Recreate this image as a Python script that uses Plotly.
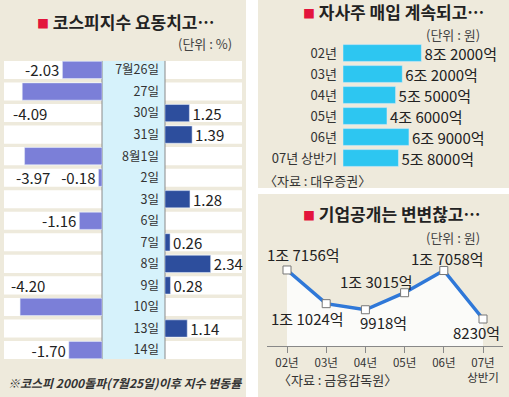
import plotly.graph_objects as go

W, H = 509, 397
FONT = "Noto Sans CJK KR"

# ---- data ----
dates = ['7월26일', '27일', '30일', '31일', '8월1일', '2일', '3일', '6일', '7일',
         '8일', '9일', '10일', '13일', '14일']
kospi_change = [-2.03, -4.09, 1.25, 1.39, -3.97, -0.18, 1.28, -1.16, 0.26,
                2.34, 0.28, -4.20, 1.14, -1.70]

buyback_years = ['02년', '03년', '04년', '05년', '06년', '07년 상반기']
buyback_eok = [82000, 62000, 55000, 46000, 69000, 58000]

ipo_years = ['02년', '03년', '04년', '05년', '06년', '07년<br>상반기']
ipo_eok = [17156, 11024, 9918, 13015, 17058, 8230]

# ---- styles ----
BG = '#eeeadc'
NEG = '#7b7fd8'
POS = '#2d4e9d'
CYAN_BAR = '#2dc6f1'
STRIP = '#d6f2fb'
LINE = '#2f78d8'


def px_x(p):
    return p / W


def px_y(p):
    return 1 - p / H


def eok_text(v):
    if v >= 10000:
        return f"{v // 10000}조 {v % 10000}억"
    return f"{v}억"


K = 19.5  # px per % point
fig = go.Figure()

neg_idx = [i for i, v in enumerate(kospi_change) if v < 0]
pos_idx = [i for i, v in enumerate(kospi_change) if v >= 0]
long_neg = {i: (1 if i != 11 else -1) for i in neg_idx if kospi_change[i] < -3.5}

fig.add_trace(go.Bar(
    x=[kospi_change[i] for i in neg_idx], y=[dates[i] for i in neg_idx],
    orientation='h', xaxis='x', yaxis='y', marker_color=NEG,
    text=['' if i in long_neg else f"{kospi_change[i]:.2f}" for i in neg_idx],
    textposition='outside', constraintext='none',
    textfont=dict(size=15, color='#222', family=FONT),
    cliponaxis=False, hoverinfo='skip'))
fig.add_trace(go.Bar(
    x=[kospi_change[i] for i in pos_idx], y=[dates[i] for i in pos_idx],
    orientation='h', xaxis='x2', yaxis='y', marker_color=POS,
    text=[f"{kospi_change[i]:.2f}" for i in pos_idx],
    textposition='outside', constraintext='none',
    textfont=dict(size=15, color='#222', family=FONT),
    cliponaxis=False, hoverinfo='skip'))

fig.add_trace(go.Bar(
    x=buyback_eok, y=buyback_years, orientation='h', xaxis='x3', yaxis='y2',
    marker_color=CYAN_BAR, text=[eok_text(v) for v in buyback_eok],
    textposition='outside', constraintext='none',
    textfont=dict(size=15, color='#222', family=FONT),
    cliponaxis=False, hoverinfo='skip'))

fig.add_trace(go.Scatter(
    x=ipo_years, y=ipo_eok, xaxis='x4', yaxis='y3', mode='lines+markers',
    line=dict(color=LINE, width=3.5), fill='tozeroy', fillcolor='#fbfbf9',
    marker=dict(symbol='square', size=8, color='white',
                line=dict(color='#777', width=1)),
    cliponaxis=False, hoverinfo='skip'))

# ---- axes ----
row_top, row_bot = 59.2, 360.8
layout = dict(
    width=W, height=H, margin=dict(l=0, r=0, t=0, b=0),
    paper_bgcolor=BG, plot_bgcolor='rgba(0,0,0,0)', showlegend=False,
    barmode='overlay', bargap=0.2,
    font=dict(family=FONT, color='#222'),
    xaxis=dict(domain=[px_x(4), px_x(102)], range=[-(102 - 4) / K, 0],
               anchor='y', visible=False),
    xaxis2=dict(domain=[px_x(165), px_x(242)], range=[0, (242 - 165) / K],
                anchor='y', visible=False),
    yaxis=dict(domain=[px_y(row_bot), px_y(row_top)], type='category',
               categoryorder='array', categoryarray=dates,
               range=[13.5, -0.5], anchor='x2', side='left',
               showgrid=False, zeroline=False, showline=False, ticks='',
               ticklabelstandoff=5, tickfont=dict(size=12.5, color='#333')),
    xaxis3=dict(domain=[px_x(343), px_x(500)], range=[0, 157 / 9.56 * 10000],
                anchor='y2', visible=False),
    yaxis2=dict(domain=[px_y(168.5), px_y(42.5)], type='category',
                categoryorder='array', categoryarray=buyback_years,
                range=[5.5, -0.5], anchor='x3', side='left',
                showgrid=False, zeroline=False, showline=False, ticks='',
                ticklabelstandoff=5, tickfont=dict(size=13, color='#333')),
    xaxis4=dict(domain=[px_x(267.4), px_x(502.6)], range=[-0.5, 5.5],
                type='category', anchor='y3', showline=True, linecolor='#888',
                linewidth=1, ticks='outside', ticklen=6, tickcolor='#888',
                showgrid=False, zeroline=False,
                tickfont=dict(size=11.5, color='#333')),
    yaxis3=dict(domain=[px_y(346), px_y(230)], range=[3316, 24436],
                anchor='x4', visible=False),
)
fig.update_layout(**layout)

# ---- decorative shapes ----
shapes = []
shapes.append(dict(type='rect', xref='paper', yref='paper', x0=px_x(246), x1=px_x(258),
                   y0=0, y1=1, fillcolor='white', line_width=0, layer='below'))
shapes.append(dict(type='rect', xref='paper', yref='paper', x0=px_x(258), x1=1,
                   y0=px_y(194), y1=px_y(188), fillcolor='white', line_width=0,
                   layer='below'))
for i in range(len(dates)):
    shapes.append(dict(type='rect', xref='paper', yref='y', x0=px_x(4), x1=px_x(242),
                       y0=i - 0.42, y1=i + 0.42, fillcolor='white', line_width=0,
                       layer='below'))
shapes.append(dict(type='rect', xref='paper', yref='y', x0=px_x(102), x1=px_x(165),
                   y0=-0.42, y1=len(dates) - 1 + 0.42, fillcolor=STRIP,
                   line_width=0, layer='below'))
for xp in (102, 165):
    shapes.append(dict(type='line', xref='paper', yref='y', x0=px_x(xp), x1=px_x(xp),
                       y0=-0.42, y1=len(dates) - 1 + 0.42,
                       line=dict(color='#8a8a8a', width=1), layer='below'))
fig.update_layout(shapes=shapes)

# ---- annotations ----
ann = []
sq = "<span style='color:#e3143c;font-size:12px'>■</span> "
for txt, cx, cy in [("코스피지수 요동치고…", 125, 22),
                    ("자사주 매입 계속되고…", 393, 12),
                    ("기업공개는 변변찮고…", 391, 213)]:
    ann.append(dict(text=sq + "<b>" + txt + "</b>", xref='paper', yref='paper',
                    x=px_x(cx), y=px_y(cy), showarrow=False, xanchor='center',
                    yanchor='middle', font=dict(size=17, color='#222')))
for txt, rx, cy in [("(단위 : %)", 234, 43), ("(단위 : 원)", 482, 34),
                    ("(단위 : 원)", 482, 237.5)]:
    ann.append(dict(text=txt, xref='paper', yref='paper', x=px_x(rx), y=px_y(cy),
                    showarrow=False, xanchor='right', yanchor='middle',
                    font=dict(size=13, color='#444')))
for txt, lx, cy in [("〈자료 : 대우증권〉", 262, 180), ("〈자료 : 금융감독원〉", 276, 379)]:
    ann.append(dict(text=txt, xref='paper', yref='paper', x=px_x(lx), y=px_y(cy),
                    showarrow=False, xanchor='left', yanchor='middle',
                    font=dict(size=13, color='#333')))
ann.append(dict(text="<i><b>※코스피 2000돌파(7월25일)이후 지수 변동률</b></i>", xref='paper',
                yref='paper', x=px_x(6), y=px_y(382), showarrow=False,
                xanchor='left', yanchor='middle', font=dict(size=12, color='#333')))

# long negative labels placed in neighbouring row
for i, d in long_neg.items():
    ann.append(dict(text=f"{kospi_change[i]:.2f}", xref='x', yref='y',
                    x=kospi_change[i], y=dates[i + d], xanchor='left', xshift=-11,
                    showarrow=False, font=dict(size=15, color='#222')))

# line labels
offsets = [(16, 15), (-19, -15), (18, -13), (-28, 11), (4, 12.5), (-7, -13)]
for i, v in enumerate(ipo_eok):
    dx, dy = offsets[i]
    ann.append(dict(text=eok_text(v), xref='x4', yref='y3', x=ipo_years[i], y=v,
                    xshift=dx, yshift=dy, showarrow=False,
                    font=dict(size=15, color='#222')))
fig.update_layout(annotations=ann)

fig.write_html("out.html", config={'displayModeBar': False},
               post_script="document.body.style.margin='0';"
                           "document.body.style.overflow='hidden';")
